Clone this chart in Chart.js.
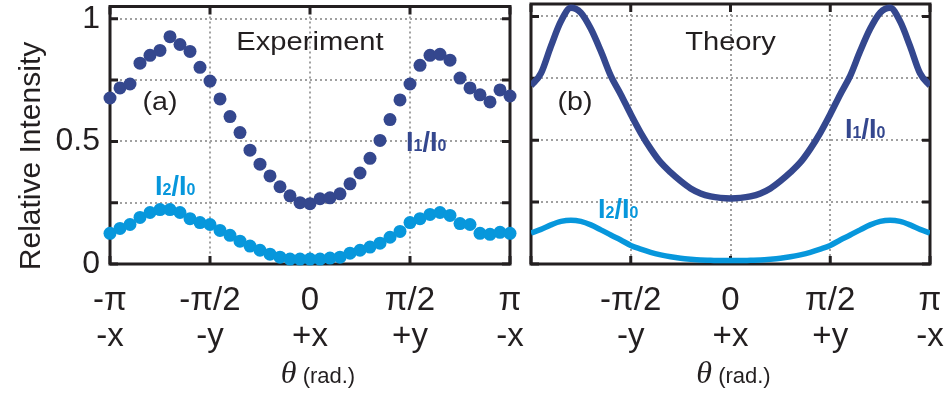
<!DOCTYPE html>
<html lang="en">
<head>
<meta charset="UTF-8" />
<title>Relative intensity vs angle</title>
<script src="https://cdn.jsdelivr.net/npm/chart.js@4.4.0/dist/chart.umd.min.js"></script>
<style>
  body { margin: 0; background: #fff; }
  #wrap { position: relative; width: 947px; height: 394px; }
  canvas { position: absolute; left: 0; top: 0; }
</style>
</head>
<body>
<div id="wrap">
  <canvas id="exp" width="947" height="394"></canvas>
  <canvas id="theory" width="947" height="394"></canvas>
</div>
<script>
const PI = Math.PI;

// measurement angles, in units of pi
const thetaOverPi = [-1.00, -0.95, -0.90, -0.85, -0.80, -0.75, -0.70, -0.65, -0.60, -0.55,
  -0.50, -0.45, -0.40, -0.35, -0.30, -0.25, -0.20, -0.15, -0.10, -0.05, 0.00,
  0.05, 0.10, 0.15, 0.20, 0.25, 0.30, 0.35, 0.40, 0.45, 0.50,
  0.55, 0.60, 0.65, 0.70, 0.75, 0.80, 0.85, 0.90, 0.95, 1.00];

// (a) experiment
const expI1 = [0.677, 0.718, 0.734, 0.819, 0.851, 0.871, 0.927, 0.895, 0.867, 0.802,
  0.746, 0.673, 0.601, 0.536, 0.464, 0.407, 0.359, 0.315, 0.278, 0.250, 0.246,
  0.266, 0.270, 0.286, 0.327, 0.371, 0.431, 0.504, 0.589, 0.669, 0.734,
  0.810, 0.851, 0.855, 0.831, 0.758, 0.718, 0.690, 0.661, 0.710, 0.685];
const expI2 = [0.125, 0.145, 0.161, 0.190, 0.210, 0.222, 0.222, 0.210, 0.185, 0.169,
  0.161, 0.137, 0.117, 0.093, 0.073, 0.056, 0.040, 0.028, 0.020, 0.020, 0.020,
  0.020, 0.024, 0.028, 0.044, 0.056, 0.069, 0.085, 0.109, 0.133, 0.169,
  0.185, 0.202, 0.210, 0.198, 0.165, 0.161, 0.125, 0.121, 0.129, 0.125];

// (b) theory
const theoryI1 = [0.720, 0.770, 0.880, 0.980, 1.035, 1.015, 0.950, 0.860, 0.760, 0.685,
  0.605, 0.530, 0.465, 0.410, 0.370, 0.335, 0.305, 0.285, 0.273, 0.267, 0.265,
  0.267, 0.273, 0.285, 0.305, 0.335, 0.370, 0.410, 0.465, 0.530, 0.605,
  0.685, 0.760, 0.860, 0.950, 1.015, 1.035, 0.980, 0.880, 0.770, 0.720];
const theoryI2 = [0.125, 0.140, 0.158, 0.172, 0.177, 0.172, 0.158, 0.138, 0.117, 0.097,
  0.075, 0.060, 0.047, 0.037, 0.029, 0.023, 0.019, 0.016, 0.015, 0.014, 0.014,
  0.014, 0.015, 0.016, 0.019, 0.023, 0.029, 0.037, 0.047, 0.060, 0.075,
  0.097, 0.117, 0.138, 0.158, 0.172, 0.177, 0.172, 0.158, 0.140, 0.125];

const xTickValues = [-1, -0.5, 0, 0.5, 1];
const xTickLabels = [['-π', '-x'], ['-π/2', '-y'], ['0', '+x'], ['π/2', '+y'], ['π', '-x']];
const yTickValues = [0, 0.25, 0.5, 0.75, 1];
const yTickLabels = ['0', '', '0.5', '', '1'];

const dark = '#34478e';
const light = '#0797dc';
const frameColor = '#231f20';

const pts = arr => arr.map((v, i) => ({ x: thetaOverPi[i] * PI, y: v }));

function text(ctx, str, x, y, font, color, align, sx) {
  ctx.save();
  ctx.font = font;
  ctx.fillStyle = color;
  ctx.textAlign = align || 'center';
  ctx.textBaseline = 'alphabetic';
  ctx.translate(x, y);
  ctx.scale(sx || 1, 1);
  ctx.fillText(str, 0, 0);
  ctx.restore();
}

// "I1/I0" style label with small digits on the baseline
function ratioLabel(ctx, digit, x, y, color) {
  const big = 'bold 27px "Liberation Sans", Arial';
  const small = 'bold 16px "Liberation Sans", Arial';
  const parts = [['I', big], [digit, small], ['/I', big], ['0', small]];
  ctx.save();
  ctx.fillStyle = color;
  ctx.textBaseline = 'alphabetic';
  ctx.textAlign = 'left';
  let cx = x;
  parts.forEach(([s, f]) => {
    ctx.font = f;
    ctx.fillText(s, cx, y);
    cx += ctx.measureText(s).width;
  });
  ctx.restore();
}

// black box, inward tick marks and panel texts
const framePlugin = {
  id: 'frame',
  beforeDatasetsDraw(chart) {
    const { ctx, chartArea: a, scales: { x, y } } = chart;
    ctx.save();
    ctx.strokeStyle = frameColor;
    ctx.lineWidth = 3;
    ctx.strokeRect(a.left, a.top, a.width, a.height);
    ctx.beginPath();
    xTickValues.forEach(v => {
      const px = x.getPixelForValue(v * PI);
      ctx.moveTo(px, a.top); ctx.lineTo(px, a.top + 8);
      ctx.moveTo(px, a.bottom); ctx.lineTo(px, a.bottom - 8);
    });
    yTickValues.forEach(v => {
      const py = y.getPixelForValue(v);
      ctx.moveTo(a.left, py); ctx.lineTo(a.left + 8, py);
      ctx.moveTo(a.right, py); ctx.lineTo(a.right - 8, py);
    });
    ctx.stroke();
    ctx.restore();
  },
  afterDraw(chart, args, opts) {
    const { ctx, chartArea: a } = chart;
    const cx = (a.left + a.right) / 2;
    const plain = '26px "Liberation Sans", Arial';
    text(ctx, opts.title, cx, 50, plain, '#231f20', 'center', 1.12);
    text(ctx, opts.tag, a.left + opts.tagX, 110, plain, '#231f20', 'center', 1.1);
    ratioLabel(ctx, '1', a.left + opts.i1[0], opts.i1[1], dark);
    ratioLabel(ctx, '2', a.left + opts.i2[0], opts.i2[1], light);
    // axis title: theta (rad.)
    const thetaFont = 'italic 32px "Liberation Serif", serif';
    const radFont = '22px "Liberation Sans", Arial';
    ctx.save();
    ctx.font = thetaFont;
    const w1 = ctx.measureText('θ').width;
    ctx.font = radFont;
    const w2 = ctx.measureText(' (rad.)').width;
    ctx.restore();
    const left = cx + opts.titleShift - (w1 + w2) / 2;
    text(ctx, 'θ', left, 383, thetaFont, '#231f20', 'left');
    text(ctx, ' (rad.)', left + w1, 383, radFont, '#231f20', 'left');
    if (opts.yTitle) {
      ctx.save();
      ctx.translate(29, 156);
      ctx.rotate(-PI / 2);
      text(ctx, 'Relative Intensity', 0, 11, '30px "Liberation Sans", Arial', '#231f20', 'center');
      ctx.restore();
    }
  }
};

function options(isLeft, panel) {
  return {
    responsive: false,
    animation: false,
    events: [],
    layout: {
      padding: isLeft ? { left: 0, right: 437, top: 4, bottom: 0 }
                      : { left: 531, right: 17, top: 4, bottom: 0 }
    },
    plugins: {
      legend: { display: false },
      tooltip: { enabled: false },
      frame: panel
    },
    scales: {
      x: {
        type: 'linear',
        min: -PI,
        max: PI,
        afterBuildTicks: s => { s.ticks = xTickValues.map(v => ({ value: v * PI })); },
        afterFit: s => { s.height = 130; s.paddingLeft = 0; s.paddingRight = 0; },
        grid: { color: '#a0a0a0', lineWidth: 2, drawTicks: false },
        border: { display: false, dash: [2, 3] },
        ticks: {
          autoSkip: false,
          maxRotation: 0,
          padding: 19,
          color: '#231f20',
          font: { family: '"Liberation Sans", Arial', size: 33, lineHeight: '36px' },
          callback: (value, index) => (!isLeft && index === 0) ? '' : xTickLabels[index]
        }
      },
      y: {
        type: 'linear',
        min: 0,
        max: 1.05,
        afterBuildTicks: s => { s.ticks = yTickValues.map(v => ({ value: v })); },
        afterFit: s => { s.width = isLeft ? 110 : 0; s.paddingTop = 0; s.paddingBottom = 0; },
        grid: { color: '#a0a0a0', lineWidth: 2, drawTicks: false },
        border: { display: false, dash: [2, 3] },
        ticks: {
          display: isLeft,
          padding: 10,
          color: '#231f20',
          font: { family: '"Liberation Sans", Arial', size: 32 },
          callback: (value, index) => yTickLabels[index]
        }
      }
    }
  };
}

new Chart(document.getElementById('exp'), {
  type: 'scatter',
  data: {
    datasets: [
      { data: pts(expI2), pointRadius: 6.5, pointBackgroundColor: light, pointBorderWidth: 0, clip: false },
      { data: pts(expI1), pointRadius: 6.5, pointBackgroundColor: dark, pointBorderWidth: 0, clip: false }
    ]
  },
  options: options(true, { title: 'Experiment', tag: '(a)', tagX: 50, i1: [296, 151], i2: [45, 195], yTitle: true, titleShift: 8 }),
  plugins: [framePlugin]
});

new Chart(document.getElementById('theory'), {
  type: 'line',
  data: {
    datasets: [
      { data: pts(theoryI2), borderColor: light, borderWidth: 5.5, pointRadius: 0, cubicInterpolationMode: 'monotone' },
      { data: pts(theoryI1), borderColor: dark, borderWidth: 6.5, pointRadius: 0, cubicInterpolationMode: 'monotone' }
    ]
  },
  options: options(false, { title: 'Theory', tag: '(b)', tagX: 44, i1: [314, 138], i2: [67, 218], yTitle: false, titleShift: 3 }),
  plugins: [framePlugin]
});
</script>
</body>
</html>
